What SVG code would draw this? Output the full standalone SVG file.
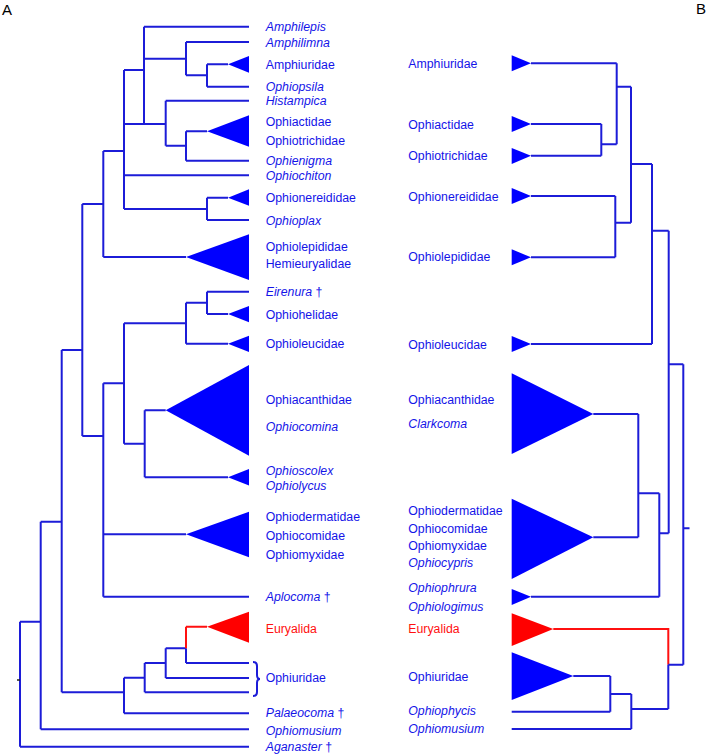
<svg xmlns="http://www.w3.org/2000/svg" width="708" height="755" viewBox="0 0 708 755">
<style>
.b{stroke:#1c1cd8;stroke-width:2;fill:none}
.r{stroke:#ff1010;stroke-width:2;fill:none}
.tb{fill:#0000ff}
.tr{fill:#ff0000}
text{font-family:"Liberation Sans",Arial,sans-serif;font-size:12.3px;fill:#1414e8}
.i{font-style:italic}
.red{fill:#ff1010}
.lab{font-size:15px;fill:#000}
</style>
<text class="lab" x="2" y="15">A</text>
<text class="lab" x="696" y="14">B</text>
<g id="connectors-A">
<path class="b" d="M144,26.7H249M144,26.7V124M144,58.7H186M186,42V75.3M186,42H249M186,75.3H207M207,64.3V86.7M207,64.3H228M207,86.7H249"/>
<path class="b" d="M124,124H165.7M165.7,100.7V145.7M165.7,100.7H249M165.7,145.7H186M186,131.3V160.7M186,131.3H207M186,160.7H249"/>
<path class="b" d="M124,70V209M124,70H144M124,175.3H249M124,209H207M207,197.7V220M207,197.7H228M207,220H249"/>
<path class="b" d="M103.3,151V257M103.3,151H124M103.3,257H186"/>
<path class="b" d="M82.3,204V436M82.3,204H103.3M82.3,436H103.3"/>
<path class="b" d="M103.3,383.3V596.7M103.3,383.3H124M124,323.3V443.7M124,323.3H186M186,302.7V343.7M186,302.7H207M186,343.7H228M207,291.7V314M207,291.7H249M207,314H228"/>
<path class="b" d="M124,443.7H144.7M144.7,410.3V477.3M144.7,410.3H165.7M144.7,477.3H228"/>
<path class="b" d="M103.3,534.3H186M103.3,596.7H249"/>
<path class="b" d="M61.7,350V692.3M61.7,350H82.3M61.7,692.3H124M124,677.7V713.3M124,677.7H144.7M124,713.3H249M144.7,663V692.3M144.7,663H165.7M144.7,692.3H249M165.7,648.3V678M165.7,648.3H186M165.7,678H249M186,648.3V663M186,663H249"/>
<path class="r" d="M186,626.7V648.3M186,626.7H207"/>
<path class="b" d="M40.7,521.7V729.3M40.7,521.7H61.7M40.7,729.3H249M20,621.7V746.7M20,621.7H40.7M20,746.7H249"/>
<path d="M17,680H20" stroke="#222" stroke-width="1.5"/>
<path class="b" d="M253,662Q257,662 257,666V675Q257,679 260,679Q257,679 257,683V692Q257,696 253,696" stroke-width="1.6"/>
</g>
<g id="clades-A">
<polygon class="tb" points="228,64.3 249,56 249,72.7"/>
<polygon class="tb" points="207,131.3 249,115.3 249,146.7"/>
<polygon class="tb" points="228,197.7 249,189.3 249,205.7"/>
<polygon class="tb" points="186,257 249,234.3 249,280"/>
<polygon class="tb" points="228,314 249,306 249,322.3"/>
<polygon class="tb" points="228,343.7 249,335.7 249,352"/>
<polygon class="tb" points="165.7,410.3 249,365 249,455.7"/>
<polygon class="tb" points="228,477.3 249,469 249,485.5"/>
<polygon class="tb" points="186,534.3 249,511.7 249,557.3"/>
<polygon class="tr" points="207,626.7 249,611.7 249,642.7"/>
</g>
<g id="labels-A">
<text class="i" x="265.7" y="31">Amphilepis</text>
<text class="i" x="265.7" y="46.5">Amphilimna</text>
<text x="265.7" y="68.8">Amphiuridae</text>
<text class="i" x="265.7" y="91">Ophiopsila</text>
<text class="i" x="265.7" y="105">Histampica</text>
<text x="265.7" y="126.2">Ophiactidae</text>
<text x="265.7" y="145.2">Ophiotrichidae</text>
<text class="i" x="265.7" y="165">Ophienigma</text>
<text class="i" x="265.7" y="179.8">Ophiochiton</text>
<text x="265.7" y="202.2">Ophionereididae</text>
<text class="i" x="265.7" y="224.5">Ophioplax</text>
<text x="265.7" y="251.2">Ophiolepididae</text>
<text x="265.7" y="267.8">Hemieuryalidae</text>
<text x="265.7" y="296.2"><tspan class="i">Eirenura</tspan> †</text>
<text x="265.7" y="318.5">Ophiohelidae</text>
<text x="265.7" y="347.8">Ophioleucidae</text>
<text x="265.7" y="403.8">Ophiacanthidae</text>
<text class="i" x="265.7" y="431.2">Ophiocomina</text>
<text class="i" x="265.7" y="474.5">Ophioscolex</text>
<text class="i" x="265.7" y="489.5">Ophiolycus</text>
<text x="265.7" y="520.5">Ophiodermatidae</text>
<text x="265.7" y="539.5">Ophiocomidae</text>
<text x="265.7" y="558.8">Ophiomyxidae</text>
<text x="265.7" y="601.2"><tspan class="i">Aplocoma</tspan> †</text>
<text class="red" x="265.7" y="632.8">Euryalida</text>
<text x="265.7" y="681.8">Ophiuridae</text>
<text x="265.7" y="717.2"><tspan class="i">Palaeocoma</tspan> †</text>
<text class="i" x="265.7" y="734.5">Ophiomusium</text>
<text x="265.7" y="751.2"><tspan class="i">Aganaster</tspan> †</text>
</g>
<g id="labels-B">
<text x="408.3" y="67.8">Amphiuridae</text>
<text x="408.3" y="128.5">Ophiactidae</text>
<text x="408.3" y="159.5">Ophiotrichidae</text>
<text x="408.3" y="201.2">Ophionereididae</text>
<text x="408.3" y="261.2">Ophiolepididae</text>
<text x="408.3" y="348.5">Ophioleucidae</text>
<text x="408.3" y="403.8">Ophiacanthidae</text>
<text class="i" x="408.3" y="427.8">Clarkcoma</text>
<text x="408.3" y="514.5">Ophiodermatidae</text>
<text x="408.3" y="532.8">Ophiocomidae</text>
<text x="408.3" y="549.5">Ophiomyxidae</text>
<text class="i" x="408.3" y="566.8">Ophiocypris</text>
<text class="i" x="408.3" y="592.2">Ophiophrura</text>
<text class="i" x="408.3" y="611.2">Ophiologimus</text>
<text class="red" x="408.3" y="632.8">Euryalida</text>
<text x="408.3" y="681.2">Ophiuridae</text>
<text class="i" x="408.3" y="714.5">Ophiophycis</text>
<text class="i" x="408.3" y="732.8">Ophiomusium</text>
</g>
<g id="clades-B">
<polygon class="tb" points="511.7,55.3 531,63.3 511.7,71.3"/>
<polygon class="tb" points="511.7,116 531,124 511.7,132"/>
<polygon class="tb" points="511.7,148 531,155.7 511.7,164"/>
<polygon class="tb" points="511.7,188 531,196 511.7,204"/>
<polygon class="tb" points="511.7,249.3 531,257.3 511.7,265.3"/>
<polygon class="tb" points="511.7,336 531,344 511.7,352"/>
<polygon class="tb" points="511.7,373.3 593.3,414 511.7,454"/>
<polygon class="tb" points="511.7,498.7 593.3,537.3 511.7,579"/>
<polygon class="tb" points="511.7,589 531,596.7 511.7,605"/>
<polygon class="tr" points="511.7,613.3 553.3,629 511.7,646"/>
<polygon class="tb" points="511.7,652.3 573.3,676 511.7,700"/>
</g>
<g id="connectors-B">
<path class="b" d="M531,63.3H616.7M616.7,63.3V144.3M531,124H601.3M531,155.7H601.3M601.3,124V155.7M601.3,144.3H616.7M616.7,86.7H631M631,86.7V222.7M531,196H615.3M531,257.3H615.3M615.3,196V257.3M615.3,222.7H631M631,164H652M652,164V344M531,344H652M652,230.7H668.7"/>
<path class="b" d="M668.7,230.7V533.3M668.7,364.3H683.3M683.3,364.3V664.7M683.3,528.3H689.5"/>
<path class="b" d="M593.3,414H638.3M638.3,414V537.3M593.3,537.3H638.3M638.3,493.3H659.3M659.3,493.3V596.7M659.3,533.3H668.7M531,596.7H659.3"/>
<path class="r" d="M553.3,629H668.3V664.7"/>
<path class="b" d="M668.3,664.7V709M668.3,664.7H683.3M573.3,676H610.3M511.7,711.7H610.3M610.3,676V711.7M610.3,694H631.3M511.7,729H631.3M631.3,694V729M631.3,709H668.3"/>
</g>
</svg>
